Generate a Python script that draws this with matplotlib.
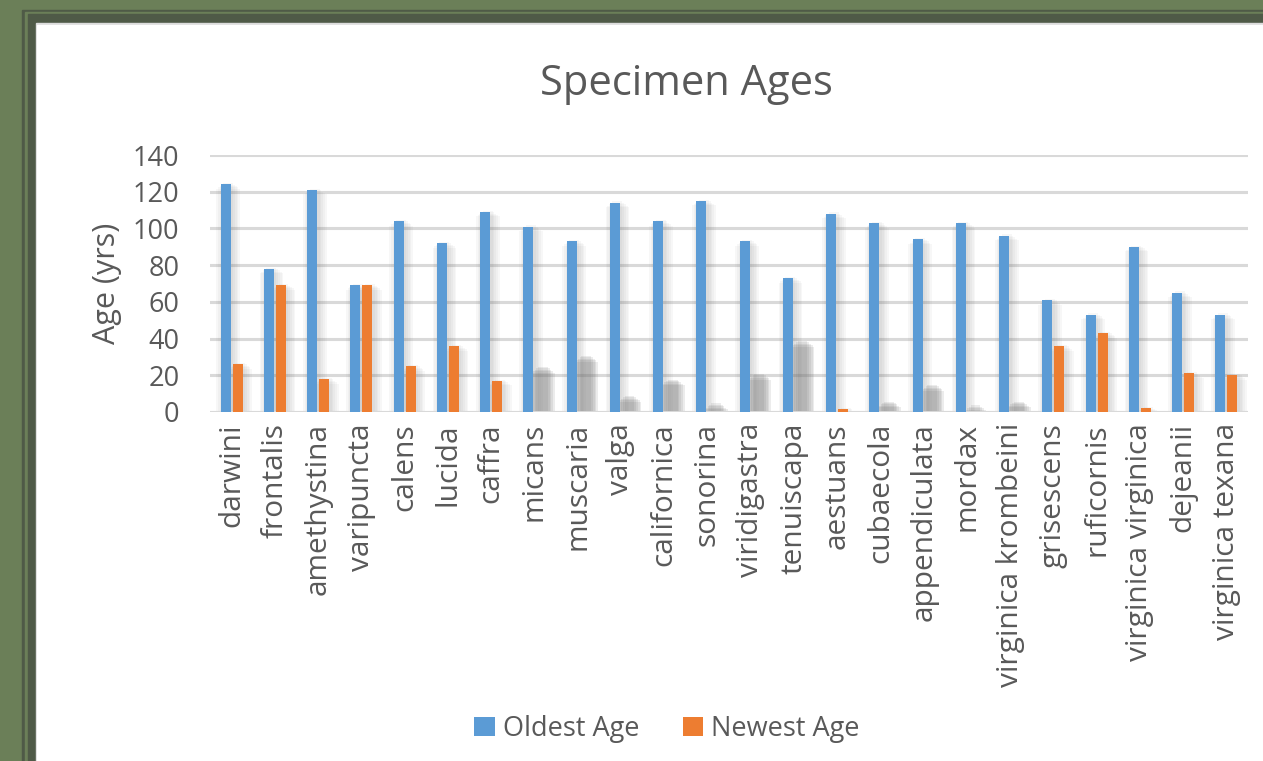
import numpy as np
import matplotlib
matplotlib.use('Agg')
import matplotlib.pyplot as plt
from matplotlib.patches import Rectangle

species = ['darwini', 'frontalis', 'amethystina', 'varipuncta', 'calens', 'lucida',
           'caffra', 'micans', 'muscaria', 'valga', 'californica', 'sonorina',
           'viridigastra', 'tenuiscapa', 'aestuans', 'cubaecola', 'appendiculata',
           'mordax', 'virginica krombeini', 'grisescens', 'ruficornis',
           'virginica virginica', 'dejeanii', 'virginica texana']
oldest = [124, 78, 121, 69, 104, 92, 109, 101, 93, 114, 104, 115,
          93, 73, 108, 103, 94, 103, 96, 61, 53, 90, 65, 53]
newest = [26, 69, 18, 69, 25, 36, 17, 22, 28, 6, 15, 2,
          18, 36, 1.5, 3, 12, 1, 3, 36, 43, 2, 21, 20]
# newest-age bars that show only as a shadow in the original (no fill)
newest_hidden = [False, False, False, False, False, False, False, True, True, True, True, True,
                 True, True, False, True, True, True, True, False, False, False, False, False]

BLUE = '#5b9bd5'
ORANGE = '#ed7d31'
TXT = '#595959'
W, H = 1263, 761

plt.rcParams['font.family'] = ['Open Sans', 'DejaVu Sans']

fig = plt.figure(figsize=(W / 100, H / 100), dpi=100)
fig.patch.set_facecolor('#6b7f58')


def px_rect(x0, y0, x1, y1, color):
    # rectangle given in pixel coords from top-left
    fig.patches.append(Rectangle((x0 / W, 1 - y1 / H), (x1 - x0) / W, (y1 - y0) / H,
                                 transform=fig.transFigure, color=color, zorder=-5))


# frame around the chart area
px_rect(22, 10, W + 5, H + 5, '#4f5a47')
px_rect(25, 12, W + 5, H + 5, '#6b7f58')
px_rect(28, 14, W + 5, H + 5, '#4f5a47')
px_rect(36, 23, W + 5, H + 5, '#dcdcdc')
px_rect(37, 25, W + 5, H + 5, 'white')

ax = fig.add_axes([210 / W, 1 - 412 / H, (1248 - 210) / W, (412 - 155) / H])
ax.set_facecolor('none')

x = np.arange(len(species))
bw = 0.23
off = 0.14
sx = 0.04   # shadow spread per step (x, data units)
sy = 0.8    # shadow spread per step (y, data units)


def shadow(xc, h, strength):
    for k in range(5):
        ax.bar(xc + 0.06, max(h - sy * (k + 1) + 1.5, 0.3), width=bw + 2 * sx * k, bottom=0,
               color='#6f6f6f', alpha=strength, linewidth=0, zorder=1)


for i in x:
    shadow(i - off, oldest[i], 0.05)
    if newest_hidden[i]:
        shadow(i + off, newest[i] + 2, 0.13)
    else:
        shadow(i + off, newest[i], 0.05)

ax.bar(x - off, oldest, width=bw, color=BLUE, zorder=3, label='Oldest Age')
vis = [n if not hid else 0 for n, hid in zip(newest, newest_hidden)]
ax.bar(x + off, vis, width=bw, color=ORANGE, zorder=3, label='Newest Age')

ax.set_xlim(-0.5, len(species) - 0.5)
ax.set_ylim(0, 140)
ax.set_yticks(np.arange(0, 141, 20))
ax.yaxis.grid(True, color='#d9d9d9', linewidth=2.2, zorder=0)
ax.set_axisbelow(True)
for s in ax.spines.values():
    s.set_visible(False)
ax.axhline(0, color='#d9d9d9', linewidth=2.2, zorder=2)

ax.set_xticks(x)
ax.set_xticklabels(species, rotation=90, fontsize=21.5, color=TXT)
ax.tick_params(axis='y', labelsize=19.5, labelcolor=TXT, length=0, pad=22)
ax.tick_params(axis='x', length=0, pad=8)
ax.set_ylabel('Age (yrs)', fontsize=22, color=TXT, labelpad=8)

fig.text(686 / W, 1 - 84 / H, 'Specimen Ages', ha='center', va='center',
         fontsize=30, color=TXT)

handles, labels = ax.get_legend_handles_labels()
leg = fig.legend(handles, labels, loc='center', bbox_to_anchor=(667 / W, 1 - 729 / H),
                 ncol=2, frameon=False, fontsize=19.5, handlelength=0.75, handleheight=0.75,
                 handletextpad=0.3, columnspacing=1.6)
for t in leg.get_texts():
    t.set_color(TXT)

fig.savefig('out.png', dpi=100, facecolor=fig.get_facecolor())
